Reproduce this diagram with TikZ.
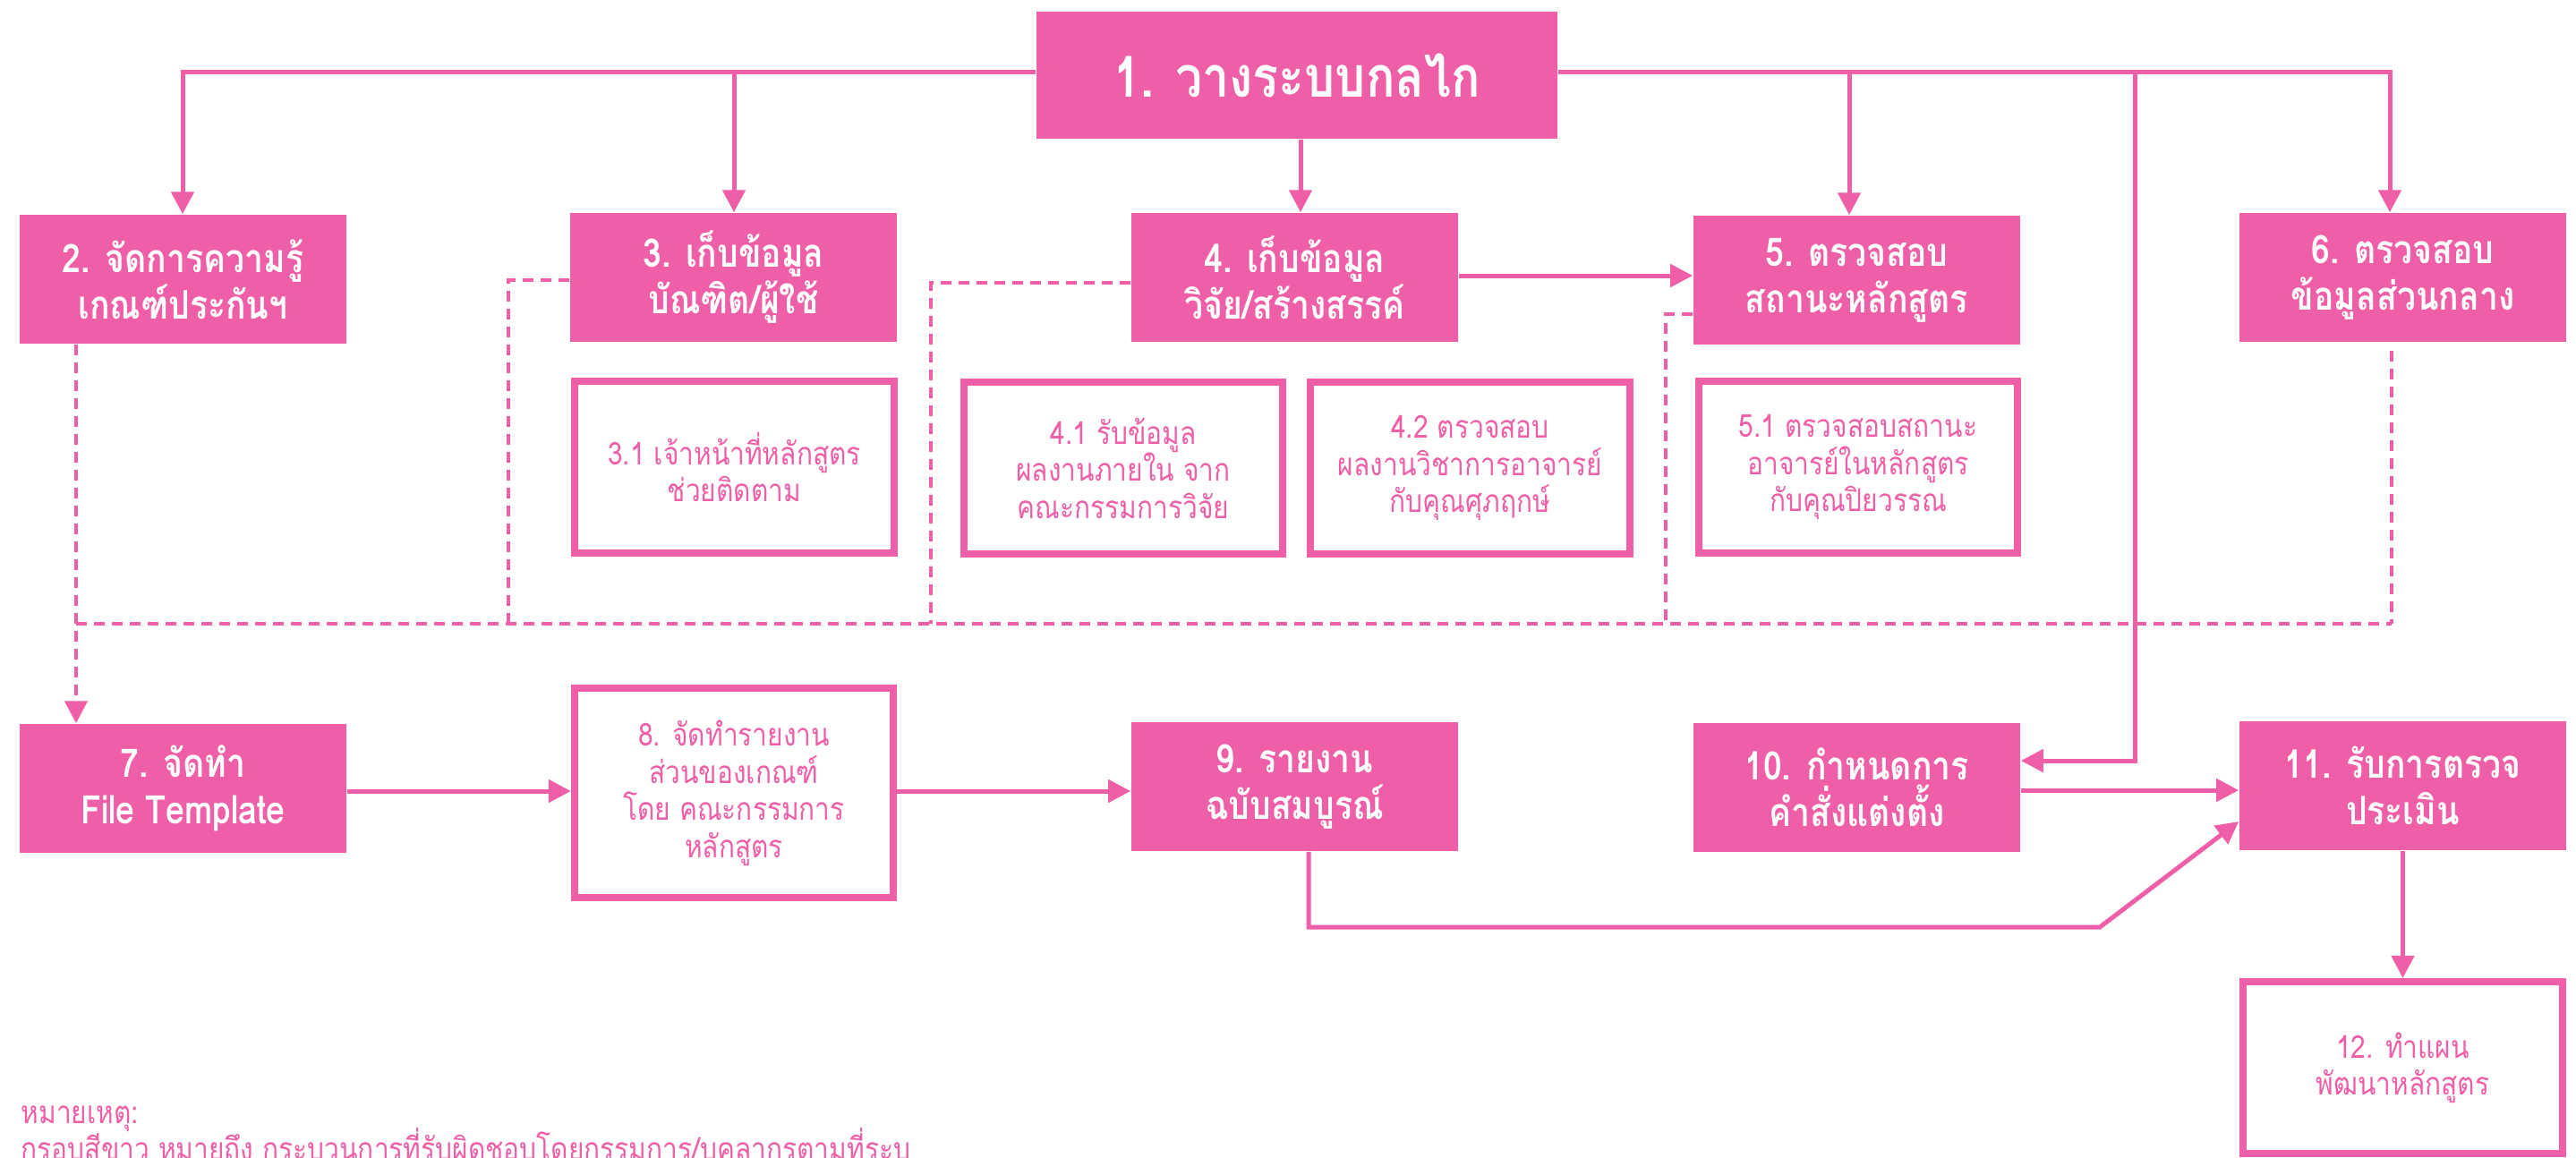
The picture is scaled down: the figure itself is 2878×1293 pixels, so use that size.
\documentclass[tikz,border=0pt]{standalone}
\usepackage{fontspec}
\setmainfont[Script=Thai]{Loma}
\newfontfamily\thai[Script=Thai,FakeStretch=0.85]{Loma}
\usetikzlibrary{arrows.meta}
\definecolor{pk}{HTML}{EE5FA7}
\tikzset{
  ln/.style={draw=pk, line width=0.05cm},
  arr/.style={ln, -{Triangle[length=0.25cm,width=0.25cm]}},
  dsh/.style={draw=pk, line width=0.045cm, dash pattern=on 0.12cm off 0.08cm},
  darr/.style={dsh, -{Triangle[length=0.25cm,width=0.25cm]}},
  pbox/.style={fill=pk, text=white, font=\thai\bfseries\fontsize{12.5}{14.8}\selectfont,
    minimum width=3.65cm, minimum height=1.44cm, inner sep=0pt, align=center},
  wbox/.style={fill=white, draw=pk, line width=0.08cm, text=pk,
    font=\thai\fontsize{10}{11.8}\selectfont,
    minimum width=3.56cm, minimum height=1.92cm, inner sep=0pt, align=center},
  note/.style={text=pk, font=\thai\fontsize{10}{11.8}\selectfont, inner sep=0pt, anchor=base west}
}
\begin{document}
\begin{tikzpicture}[x=0.01cm,y=-0.01cm]
\useasboundingbox (0,0) rectangle (2878,1293);
% main boxes
\node[pbox, minimum width=5.82cm, minimum height=1.42cm, font=\thai\bfseries\fontsize{18}{20}\selectfont] (b1) at (1449,84) {1. วางระบบกลไก};
\node[pbox] (b2) at (204.5,312) {2. จัดการความรู้\\เกณฑ์ประกันฯ};
\node[pbox] (b3) at (819.5,310) {3. เก็บข้อมูล\\บัณฑิต/ผู้ใช้};
\node[pbox] (b4) at (1446.5,310) {4. เก็บข้อมูล\\วิจัย/สร้างสรรค์};
\node[pbox] (b5) at (2074.5,313) {5. ตรวจสอบ\\สถานะหลักสูตร};
\node[pbox] (b6) at (2684.5,310) {6. ตรวจสอบ\\ข้อมูลส่วนกลาง};
% sub boxes
\node[wbox] (s31) at (820.5,522) {3.1 เจ้าหน้าที่หลักสูตร\\ช่วยติดตาม};
\node[wbox] (s41) at (1255,523) {4.1 รับข้อมูล\\ผลงานภายใน จาก\\คณะกรรมการวิจัย};
\node[wbox] (s42) at (1642.5,523) {4.2 ตรวจสอบ\\ผลงานวิชาการอาจารย์\\กับคุณศุภฤกษ์};
\node[wbox] (s51) at (2076,522) {5.1 ตรวจสอบสถานะ\\อาจารย์ในหลักสูตร\\กับคุณปิยวรรณ};
% row 3
\node[pbox] (b7) at (204.5,881) {7. จัดทำ\\File Template};
\node[wbox, minimum height=2.34cm] (b8) at (820,886) {8. จัดทำรายงาน\\ส่วนของเกณฑ์\\โดย คณะกรรมการ\\หลักสูตร};
\node[pbox] (b9) at (1446.5,879) {9. รายงาน\\ฉบับสมบูรณ์};
\node[pbox] (b10) at (2074.5,880) {10. กำหนดการ\\คำสั่งแต่งตั้ง};
\node[pbox] (b11) at (2684.5,878) {11. รับการตรวจ\\ประเมิน};
\node[wbox] (b12) at (2684.5,1193) {12. ทำแผน\\พัฒนาหลักสูตร};
% note
\node[note] (n1) at (23,1255) {หมายเหตุ:};
\node[note] (n2) at (23,1296) {กรอบสีขาว หมายถึง กระบวนการที่รับผิดชอบโดยกรรมการ/บุคลากรตามที่ระบุ};
% top distribution
\coordinate (c2) at (204,80);
\coordinate (c3) at (820,80);
\coordinate (c4) at (1453,0);
\coordinate (c5) at (2066,80);
\coordinate (c10) at (2385,80);
\coordinate (k10) at (2385,850);
\coordinate (c6) at (2670,80);
\draw[arr] (b1.west |- c2) -- (c2) -- (c2 |- b2.north);
\draw[arr] (c3) -- (c3 |- b3.north);
\draw[arr] (c4 |- b1.south) -- (c4 |- b4.north);
\draw[arr] (b1.east |- c6) -- (c6) -- (c6 |- b6.north);
\draw[arr] (c5) -- (c5 |- b5.north);
\draw[arr] (c10) -- (k10) -- (k10 -| b10.east);
% 4 -> 5
\coordinate (y45) at (0,308);
\draw[arr] (b4.east |- y45) -- (b5.west |- y45);
% row 3 flow
\coordinate (y78) at (0,884);
\draw[arr] (b7.east |- y78) -- (b8.west |- y78);
\draw[arr] (b8.east |- y78) -- (b9.west |- y78);
\coordinate (y1011) at (0,883);
\draw[arr] (b10.east |- y1011) -- (b11.west |- y1011);
\coordinate (k9a) at (1462,1036);
\coordinate (k9b) at (2346,1036);
\coordinate (e11) at (0,918);
\draw[arr] (k9a |- b9.south) -- (k9a) -- (k9b) -- (b11.west |- e11);
\draw[arr] (b11.south) -- (b12.north);
% dashed collection
\coordinate (dl) at (85,697);
\coordinate (dr) at (2672,697);
\coordinate (d6) at (2672,392);
\coordinate (d3) at (568,313);
\coordinate (d4) at (1040,316);
\coordinate (d5) at (1861,351);
\draw[darr] (dl |- b2.south) -- (dl |- b7.north);
\draw[dsh] (dl) -- (dr);
\draw[dsh] (d6) -- (dr);
\draw[dsh] (b3.west |- d3) -- (d3) -- (d3 |- dl);
\draw[dsh] (b4.west |- d4) -- (d4) -- (d4 |- dl);
\draw[dsh] (b5.west |- d5) -- (d5) -- (d5 |- dl);
\end{tikzpicture}
\end{document}
